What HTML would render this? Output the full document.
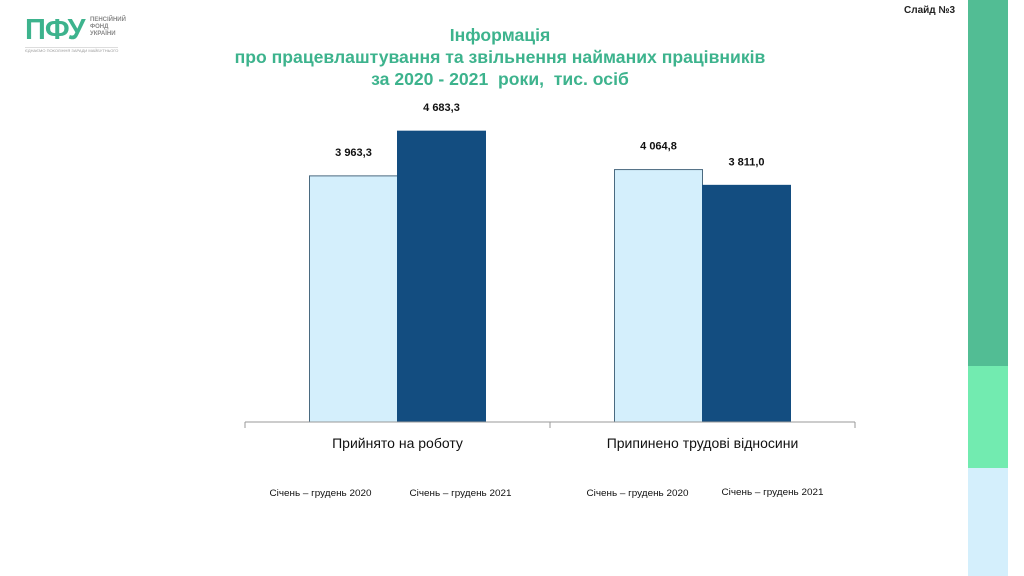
<!DOCTYPE html>
<html><head><meta charset="utf-8"><style>
body{margin:0;width:1024px;height:576px;background:#fff;position:relative;overflow:hidden;font-family:"Liberation Sans",sans-serif}
.abs{position:absolute}
</style></head><body>
<div class="abs" style="left:25px;top:13px;width:110px;height:40px">
 <div class="abs" style="left:0;top:1px;font:bold 29px 'Liberation Sans',sans-serif;color:#3db38d;letter-spacing:-1px">ПФУ</div>
 <div class="abs" style="left:65px;top:4px;font:bold 6px 'Liberation Sans',sans-serif;color:#888;line-height:7px">ПЕНСІЙНИЙ<br>ФОНД<br>УКРАЇНИ</div>
 <div class="abs" style="left:0;top:34px;font:4px 'Liberation Sans',sans-serif;color:#999;white-space:nowrap;border-top:1px solid #ddd">ЄДНАЄМО ПОКОЛІННЯ ЗАРАДИ МАЙБУТНЬОГО</div>
</div>
<div class="abs" style="left:904px;top:5px;font:bold 10px 'Liberation Sans',sans-serif;color:#222">Слайд №3</div>
<div class="abs" style="left:968px;top:0;width:40px;height:366px;background:#52bd94"></div>
<div class="abs" style="left:968px;top:366px;width:40px;height:102px;background:#72ebb0"></div>
<div class="abs" style="left:968px;top:468px;width:40px;height:108px;background:#d4effc"></div>
<div class="abs" style="left:200px;top:24px;width:600px;text-align:center;font:bold 17.6px 'Liberation Sans',sans-serif;color:#3db38d;line-height:22px">Інформація<br>про працевлаштування та звільнення найманих працівників<br>за 2020 - 2021&nbsp; роки,&nbsp; тис. осіб</div>
<svg class="abs" style="left:0;top:0" width="1024" height="576" id="chart"></svg>
<script>
const categories=["Прийнято на роботу","Припинено трудові відносини"];
const series2020=[3963.3,4064.8];
const series2021=[4683.3,3811.0];
const valueLabels2020=["3 963,3","4 064,8"];
const valueLabels2021=["4 683,3","3 811,0"];
const legendLabels=["Січень – грудень 2020","Січень – грудень 2021"];
const svg=document.getElementById('chart');
const NS='http://www.w3.org/2000/svg';
const base=422,scale=0.0621,x0=245,catW=305;
function y(v){return base-v*scale;}
function xCat(i){return x0+i*catW;}
function mk(t,a){const e=document.createElementNS(NS,t);for(const k in a)e.setAttribute(k,a[k]);svg.appendChild(e);return e;}
const legOff=[[-77,63],[-65,70]];
const legY=[[496,496],[496,495]];
categories.forEach((c,i)=>{
 const cx=xCat(i)+catW/2;
 [[series2020,valueLabels2020,'#d4effc','#4a6a80',-88],[series2021,valueLabels2021,'#134d80','#134d80',0]].forEach((s,j)=>{
  const v=s[0][i];
  const r=mk('rect',{x:cx+s[4],y:y(v),width:88,height:base-y(v),fill:s[2],stroke:s[3],'stroke-width':1});
  
  
  const t=mk('text',{x:cx+s[4]+44,y:y(v)-20,'text-anchor':'middle','font-size':11,'font-weight':'bold',fill:'#111','font-family':'Liberation Sans'});
  t.textContent=s[1][i];
  
  
 });
 const ct=mk('text',{x:cx,y:448,'text-anchor':'middle','font-size':14,fill:'#111','font-family':'Liberation Sans'});
 ct.textContent=c;
 
 
 [0,1].forEach(j=>{
  const lt=mk('text',{x:cx+legOff[i][j],y:legY[i][j],'text-anchor':'middle','font-size':9.5,fill:'#111','font-family':'Liberation Sans','textLength':102,'lengthAdjust':'spacingAndGlyphs'});
  lt.textContent=legendLabels[j];
  
  
 });
});
const ax=mk('line',{x1:x0,y1:base,x2:x0+catW*2,y2:base,stroke:'#999','stroke-width':1});


for(let i=0;i<=categories.length;i++){
 const tk=mk('line',{x1:xCat(i),y1:base,x2:xCat(i),y2:base+6,stroke:'#999','stroke-width':1});
 
 
}
</script>
</body></html>
